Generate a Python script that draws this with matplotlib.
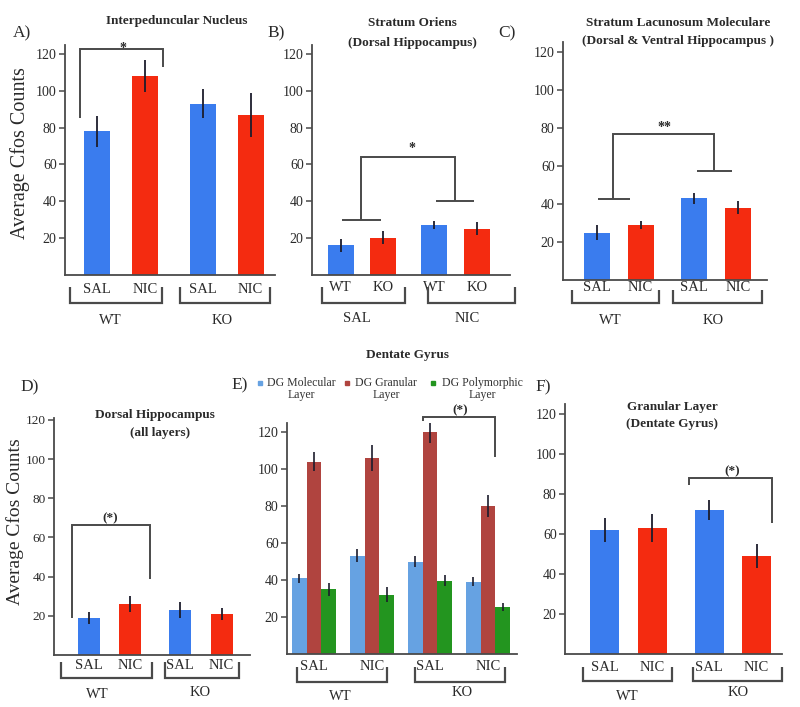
import matplotlib
matplotlib.use('Agg')
import matplotlib.pyplot as plt
import numpy as np
from matplotlib.transforms import Affine2D
from matplotlib.lines import Line2D

W, H = 800, 707
plt.rcParams['font.family'] = ['Liberation Serif', 'DejaVu Serif']

# ---------------- data ----------------
cond_labels = ['SAL', 'NIC', 'SAL', 'NIC']
geno_labels = ['WT', 'KO']
b_tick_labels = ['WT', 'KO', 'WT', 'KO']
b_group_labels = ['SAL', 'NIC']

a_vals = [78, 108, 93, 87]
a_err = [8.5, 8.5, 8, 12]
b_vals = [16, 20, 27, 25]
b_err = [3.5, 3.5, 2, 3.5]
c_vals = [25, 29, 43, 38]
c_err = [4, 2, 3, 3.5]
d_vals = [19, 26, 23, 21]
d_err = [3, 4, 4, 3]
e_series = ['DG Molecular\nLayer', 'DG Granular\nLayer', 'DG Polymorphic\nLayer']
e_mol = [41, 53, 50, 39]
e_mol_err = [2.5, 3.5, 3, 2.5]
e_gran = [104, 106, 120, 80]
e_gran_err = [5, 7, 6, 6]
e_poly = [35, 32, 39.5, 25.5]
e_poly_err = [3.5, 4, 3, 2]
f_vals = [62, 63, 72, 49]
f_err = [6, 7, 5, 6]
yticks = [20, 40, 60, 80, 100, 120]

BLUE = '#3A7CEE'
RED = '#F42B10'
E_COLORS = ['#66A2E2', '#B0443F', '#23951F']
GRAY = '#4a4a4a'
TXT = '#2a2a2a'

fig = plt.figure(figsize=(W / 100, H / 100), dpi=100)
PIX = Affine2D().scale(1, -1).translate(0, H)


def pline(xs, ys, lw=1.4, color=GRAY):
    fig.add_artist(Line2D(xs, ys, transform=PIX, color=color, lw=lw,
                          solid_capstyle='butt', solid_joinstyle='miter'))


def ptext(x, y, s, size=10, weight='normal', ha='center', va='center', rot=0, color=TXT, **kw):
    fig.text(x, y, s, transform=PIX, fontsize=size, fontweight=weight, ha=ha, va=va,
             rotation=rot, color=color, **kw)


def make_ax(left, right, y0, ppu, first, last, span, ymax=125, pad=5, ylsize=10):
    top = y0 - ymax * ppu
    ax = fig.add_axes([left / W, 1 - y0 / H, (right - left) / W, (y0 - top) / H])
    ax.set_ylim(0, ymax)
    s = (last - first) / span
    ax.set_xlim((left - first) / s, (right - first) / s)
    for sp in ['top', 'right']:
        ax.spines[sp].set_visible(False)
    for sp in ['left', 'bottom']:
        ax.spines[sp].set_color(GRAY)
        ax.spines[sp].set_linewidth(1.3)
    ax.set_yticks(yticks)
    ax.tick_params(axis='y', direction='out', length=4, width=1.1, color=GRAY,
                   labelsize=ylsize, pad=2, labelcolor=TXT)
    ax.tick_params(axis='x', length=0, labelsize=10.5, pad=pad, labelcolor=TXT)
    ax.patch.set_alpha(0)
    return ax, s


pos = np.array([0, 1, 2.2, 3.2])
colors4 = [BLUE, RED, BLUE, RED]


def simple_panel(vals, err, left, right, y0, ppu, first, last, wpx, ticklabels, ymax=125, pad=5, ylsize=10):
    ax, s = make_ax(left, right, y0, ppu, first, last, 3.2, ymax=ymax, pad=pad, ylsize=ylsize)
    ax.bar(pos, vals, width=wpx / s, color=colors4, zorder=2)
    ax.errorbar(pos, vals, yerr=err, fmt='none', ecolor='#1c1c2c', elinewidth=1.3, capsize=0, zorder=3)
    ax.set_xticks(pos)
    ax.set_xticklabels(ticklabels)
    return ax


def group_bracket(xl, xr, ytop, ybot):
    pline([xl, xl, xr, xr], [ytop, ybot, ybot, ytop], lw=1.6)


# ---------------- Panel A ----------------
simple_panel(a_vals, a_err, 65, 275, 274.5, 1.837, 97, 250.5, 26, cond_labels, pad=6)
ptext(22, 33, 'A)', size=12.5)
ptext(177, 21, 'Interpeduncular Nucleus', size=9.5, weight='bold')
ptext(20, 153, 'Average Cfos Counts', size=14.5, rot=90)
pline([80, 80, 163, 163], [118, 49, 49, 67])
ptext(123, 52, '*', size=10, weight='bold', va='baseline')
group_bracket(70, 162, 287, 303)
group_bracket(180, 270, 287, 303)
ptext(110, 321, geno_labels[0], size=10.5)
ptext(222, 321, geno_labels[1], size=10.5)

# ---------------- Panel B ----------------
simple_panel(b_vals, b_err, 312, 510, 274.5, 1.837, 340.5, 477, 26, b_tick_labels, pad=5)
ptext(276, 33, 'B)', size=12.5)
ptext(412, 23, 'Stratum Oriens', size=9.5, weight='bold')
ptext(412, 43, '(Dorsal Hippocampus)', size=9.5, weight='bold')
pline([342, 381], [220, 220])
pline([361, 361, 455, 455], [220, 157, 157, 201])
pline([436, 474], [201, 201])
ptext(412, 152, '*', size=10, weight='bold', va='baseline')
group_bracket(322, 405, 287, 303)
group_bracket(428, 515, 287, 303)
ptext(357, 319, b_group_labels[0], size=10.5)
ptext(467, 319, b_group_labels[1], size=10.5)

# ---------------- Panel C ----------------
simple_panel(c_vals, c_err, 563, 767, 280, 1.9, 596.5, 738, 26, cond_labels, pad=1)
ptext(507, 33, 'C)', size=12.5)
ptext(678, 23, 'Stratum Lacunosum Moleculare', size=9.5, weight='bold')
ptext(678, 41, '(Dorsal & Ventral Hippocampus )', size=9.5, weight='bold')
pline([598, 630], [199, 199])
pline([613, 613, 714, 714], [199, 134, 134, 171])
pline([697, 732], [171, 171])
ptext(664, 131, '**', size=10, weight='bold', va='baseline')
group_bracket(572, 659, 290, 303)
group_bracket(673, 762, 290, 303)
ptext(610, 320, geno_labels[0], size=10.5)
ptext(713, 321, geno_labels[1], size=10.5)

# ---------------- Panel D ----------------
simple_panel(d_vals, d_err, 54, 250, 655, 1.96, 89, 221.5, 22, cond_labels, ymax=121, pad=3, ylsize=9.5)
ptext(30, 387, 'D)', size=12.5)
ptext(155, 415, 'Dorsal Hippocampus', size=9.5, weight='bold')
ptext(160, 433, '(all layers)', size=9.5, weight='bold')
ptext(15, 522, 'Average Cfos Counts', size=14, rot=90)
pline([72, 72, 150, 150], [618, 525, 525, 579])
ptext(110, 521, '(*)', size=9.5, weight='bold', va='baseline')
group_bracket(61, 152, 662, 678)
group_bracket(165, 239, 662, 678)
ptext(97, 695, geno_labels[0], size=10.5)
ptext(200, 693, geno_labels[1], size=10.5)

# ---------------- Panel E ----------------
axE, sE = make_ax(287, 517, 654, 1.85, 314, 488, 3, pad=4)
gpos = np.arange(4)
bw = 14.7 / sE
for k, (vals, err) in enumerate([(e_mol, e_mol_err), (e_gran, e_gran_err), (e_poly, e_poly_err)]):
    xk = gpos + (k - 1) * bw
    axE.bar(xk, vals, width=bw, color=E_COLORS[k], zorder=2)
    axE.errorbar(xk, vals, yerr=err, fmt='none', ecolor='#1c1c2c', elinewidth=1.2, capsize=0, zorder=3)
axE.set_xticks(gpos)
axE.set_xticklabels(cond_labels)
ptext(240, 385, 'E)', size=12.5)
ptext(408, 355, 'Dentate Gyrus', size=9.5, weight='bold')
leg_marker_x = [260, 347, 433]
leg_text_x = [301, 386, 482]
for k in range(3):
    fig.add_artist(Line2D([leg_marker_x[k]], [383], transform=PIX, marker='s', markersize=3.5,
                          color=E_COLORS[k], lw=0))
    ptext(leg_text_x[k], 389, e_series[k], size=8.5, linespacing=0.95, color='#333333')
pline([423, 423, 495, 495], [421, 417, 417, 457])
ptext(460, 413, '(*)', size=9.5, weight='bold', va='baseline')
group_bracket(297, 387, 667, 682)
group_bracket(415, 505, 667, 682)
ptext(340, 697, geno_labels[0], size=10.5)
ptext(462, 693, geno_labels[1], size=10.5)

# ---------------- Panel F ----------------
simple_panel(f_vals, f_err, 565, 782, 654, 2.0, 604.5, 756.5, 29, cond_labels, pad=5)
ptext(543, 387, 'F)', size=12.5)
ptext(672, 407, 'Granular Layer', size=9.5, weight='bold')
ptext(672, 424, '(Dentate Gyrus)', size=9.5, weight='bold')
pline([689, 689, 772, 772], [485, 478, 478, 523])
ptext(732, 474, '(*)', size=9.5, weight='bold', va='baseline')
group_bracket(583, 672, 667, 681)
group_bracket(693, 782, 667, 681)
ptext(627, 697, geno_labels[0], size=10.5)
ptext(738, 693, geno_labels[1], size=10.5)

fig.savefig('out.png', dpi=100, facecolor='white')
